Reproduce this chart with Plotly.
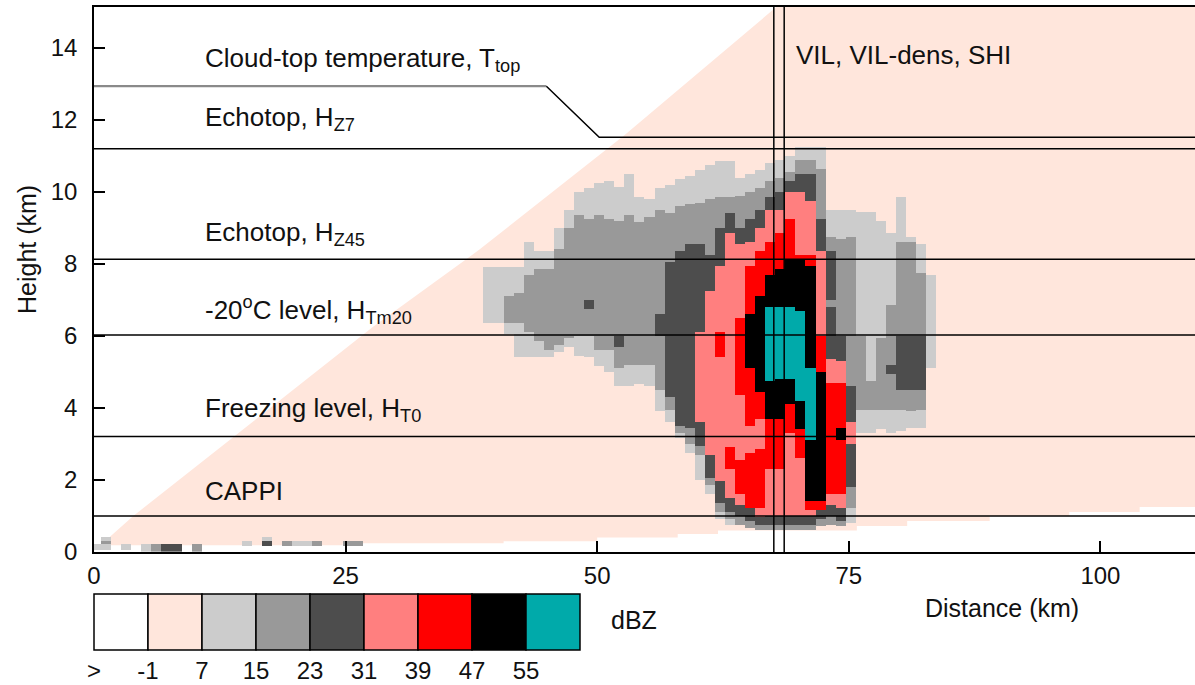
import numpy as np
import plotly.graph_objects as go

# ---------------- data ----------------
class_colors = ["#FFFFFF", "#FFE6DC", "#CCCCCC", "#999999", "#4D4D4D",
                "#FF7F7F", "#FF0000", "#000000", "#00AAAA"]
class_labels = [">", "-1", "7", "15", "23", "31", "39", "47", "55"]

x_ticks = [0, 25, 50, 75, 100]
y_ticks = [0, 2, 4, 6, 8, 10, 12, 14]

level_heights = [11.2, 8.13, 6.03, 3.21, 1.0]          # H_Z7, H_Z45, H_Tm20, H_T0, CAPPI
cloud_top_x = [0.0, 44.95, 50.2, 109.4]
cloud_top_h = [12.94, 12.94, 11.52, 11.52]
column_lines_x = [67.55, 68.58]

label_texts = ["Cloud-top temperature, T<sub>top</sub>", "Echotop, H<sub>Z7</sub>",
               "Echotop, H<sub>Z45</sub>", "-20<sup>o</sup>C level, H<sub>Tm20</sub>",
               "Freezing level, H<sub>T0</sub>", "CAPPI", "VIL, VIL-dens, SHI"]
label_x = [10.8, 10.8, 10.8, 10.8, 10.8, 10.8, 69.6]
label_h = [13.67, 12.03, 8.85, 6.72, 3.97, 1.69, 13.8]

# radar-beam (echo) region: upper edge points and stepped lower edge
beam_top_x = [1.5, 3.9, 27.7, 38.3, 52.7, 67.8]
beam_top_h = [0.4, 1.0, 6.25, 8.4, 11.58, 15.14]
beam_base_x = [1.5, 24.7, 40.7, 50.0, 58.0, 62.0, 75.8, 80.8, 89.0, 96.9, 103.9, 109.4]
beam_base_h = [0.19, 0.24, 0.3, 0.4, 0.5, 0.6, 0.72, 0.86, 1.0, 1.11, 1.25]

# storm: per 1-km column, (top height km, class) from the top down; class 1 = background
storm_cols = list(range(39, 84))
storm_profiles = [
    [(7.9, 2), (6.35, 1)],                                                   # 39
    [(7.9, 2), (6.35, 1)],                                                   # 40
    [(7.9, 2), (7.1, 3), (6.35, 2), (6.05, 1)],                              # 41
    [(7.9, 2), (7.2, 3), (6.35, 2), (5.4, 1)],                               # 42
    [(8.6, 2), (7.7, 3), (6.1, 2), (5.4, 1)],                                # 43
    [(8.35, 2), (7.85, 3), (5.85, 2), (5.4, 1)],                             # 44
    [(8.35, 2), (7.85, 3), (5.6, 2), (5.4, 1)],                              # 45
    [(9.0, 2), (8.4, 3), (5.75, 2), (5.55, 1)],                              # 46
    [(9.5, 2), (9.0, 3), (5.95, 2), (5.7, 1)],                               # 47
    [(10.0, 2), (9.35, 3), (6.0, 2), (5.45, 1)],                             # 48
    [(10.1, 2), (9.25, 3), (7.0, 4), (6.75, 3), (6.0, 2), (5.4, 1)],         # 49
    [(10.25, 2), (9.35, 3), (5.6, 2), (5.15, 1)],                            # 50
    [(10.3, 2), (9.25, 3), (5.6, 2), (5.0, 1)],                              # 51
    [(10.15, 2), (9.2, 3), (6.0, 4), (5.7, 3), (5.1, 2), (4.6, 1)],          # 52
    [(10.5, 2), (9.35, 3), (5.2, 2), (4.6, 1)],                              # 53
    [(9.85, 2), (9.15, 3), (5.2, 2), (4.65, 1)],                             # 54
    [(9.8, 2), (9.3, 3), (5.2, 2), (4.6, 1)],                                # 55
    [(10.1, 2), (9.5, 3), (6.6, 4), (6.0, 3), (4.5, 2), (3.9, 1)],           # 56
    [(10.2, 2), (9.4, 3), (8.05, 4), (4.3, 3), (3.95, 2), (3.6, 1)],         # 57
    [(10.35, 2), (9.6, 3), (8.35, 4), (3.5, 3), (3.3, 2), (3.15, 1)],        # 58
    [(10.45, 2), (9.65, 3), (8.55, 4), (3.45, 3), (3.0, 2), (2.75, 1)],      # 59
    [(10.6, 2), (9.7, 3), (8.55, 4), (6.1, 5), (3.6, 4), (2.95, 3), (2.7, 2), (2.0, 1)],   # 60
    [(10.75, 2), (9.8, 3), (8.25, 4), (7.25, 5), (2.7, 4), (2.05, 3), (1.85, 2), (1.6, 1)],  # 61
    [(10.85, 2), (9.85, 3), (9.0, 4), (7.95, 5), (6.1, 6), (5.4, 5), (1.95, 4), (1.35, 3),
     (1.1, 2), (0.9, 1)],                                                    # 62
    [(10.85, 2), (9.85, 3), (9.4, 4), (8.85, 5), (2.9, 6), (2.3, 5), (1.5, 4), (1.1, 3),
     (0.9, 2), (0.75, 1)],                                                   # 63
    [(10.4, 2), (9.9, 3), (9.0, 4), (8.55, 5), (6.5, 6), (4.35, 5), (2.55, 6), (1.6, 5),
     (1.3, 4), (1.0, 3), (0.75, 1)],                                         # 64
    [(10.5, 2), (10.0, 3), (9.25, 4), (8.6, 5), (7.95, 6), (6.6, 7), (5.1, 6), (3.5, 5),
     (2.75, 6), (1.2, 4), (0.85, 3), (0.65, 1)],                             # 65
    [(10.6, 2), (10.1, 3), (9.5, 4), (9.0, 5), (8.35, 6), (7.1, 7), (4.45, 6), (3.7, 5),
     (2.85, 6), (1.2, 5), (0.95, 4), (0.75, 3), (0.6, 1)],                   # 66
    [(10.8, 2), (10.3, 3), (9.85, 4), (9.5, 5), (8.6, 6), (7.7, 7), (6.8, 8), (4.75, 7),
     (3.7, 6), (2.3, 5), (1.0, 4), (0.75, 3), (0.6, 1)],                     # 67
    [(10.9, 2), (10.4, 3), (10.0, 4), (9.5, 5), (8.85, 6), (7.85, 7), (6.8, 8), (4.8, 7),
     (3.7, 6), (2.3, 5), (1.0, 4), (0.75, 3), (0.6, 1)],                     # 68
    [(11.0, 2), (10.55, 3), (10.3, 4), (10.0, 5), (9.25, 6), (8.1, 7), (6.8, 8), (4.8, 7),
     (4.1, 6), (3.3, 5), (1.0, 4), (0.75, 3), (0.6, 1)],                     # 69
    [(11.25, 2), (10.9, 3), (10.5, 4), (10.0, 5), (8.25, 6), (8.1, 7), (6.7, 8), (4.2, 7),
     (3.4, 6), (2.6, 5), (1.0, 4), (0.75, 3), (0.6, 1)],                     # 70
    [(11.25, 2), (10.9, 3), (10.5, 4), (9.75, 5), (8.25, 6), (7.95, 7), (5.1, 8), (3.1, 7),
     (1.4, 6), (1.15, 5), (1.0, 4), (0.75, 3), (0.6, 1)],                    # 71
    [(11.25, 2), (10.65, 3), (9.25, 4), (8.35, 5), (6.0, 6), (5.0, 7), (1.4, 6), (1.15, 4),
     (0.9, 3), (0.7, 1)],                                                    # 72
    [(9.5, 2), (8.75, 3), (8.35, 4), (7.0, 3), (6.8, 4), (5.35, 5), (4.7, 6), (1.6, 5),
     (1.3, 4), (1.0, 3), (0.75, 1)],                                         # 73
    [(9.5, 2), (8.7, 3), (6.0, 4), (5.3, 5), (4.7, 6), (3.45, 7), (3.1, 6), (1.6, 5),
     (1.2, 4), (0.85, 3), (0.7, 1)],                                         # 74
    [(9.5, 2), (8.75, 3), (4.6, 4), (3.6, 5), (3.0, 4), (1.8, 3), (1.2, 2), (0.8, 1)],  # 75
    [(9.45, 2), (6.0, 3), (3.95, 2), (3.3, 1)],                              # 76
    [(9.45, 2), (4.75, 3), (3.95, 2), (3.3, 1)],                             # 77
    [(9.2, 2), (5.95, 3), (3.95, 2), (3.4, 1)],                              # 78
    [(8.85, 2), (6.85, 3), (5.2, 4), (4.95, 3), (3.95, 2), (3.3, 1)],        # 79
    [(9.85, 2), (8.6, 3), (6.0, 4), (4.5, 3), (3.95, 2), (3.35, 1)],         # 80
    [(8.75, 2), (8.6, 3), (6.0, 4), (4.5, 3), (3.9, 2), (3.45, 1)],          # 81
    [(8.55, 2), (7.75, 3), (6.0, 4), (4.5, 3), (3.95, 2), (3.45, 1)],        # 82
    [(7.7, 2), (5.1, 1)],                                                    # 83
]

# ground clutter cells near the radar
clutter_col = [0, 1, 1, 1, 3, 5, 6, 7, 8, 10, 15, 17, 17, 19, 20, 21, 22, 25, 26]
clutter_bot = [0.06, 0.06, 0.19, 0.28, 0.06, 0.0, 0.0, 0.0, 0.0, 0.0,
               0.14, 0.14, 0.28, 0.14, 0.14, 0.14, 0.14, 0.14, 0.14]
clutter_top = [0.19, 0.19, 0.28, 0.42, 0.19, 0.19, 0.19, 0.19, 0.19, 0.19,
               0.28, 0.28, 0.42, 0.28, 0.28, 0.28, 0.28, 0.28, 0.28]
clutter_cls = [2, 2, 3, 2, 2, 2, 3, 4, 4, 3, 2, 4, 2, 3, 2, 2, 3, 3, 3]

# ---------------- build figure ----------------
W, H = 1195, 685
X_MAX, Y_MAX = 109.4, 15.14
FONT = "Liberation Sans, Arial, sans-serif"
TXT = "#111111"

def px(x):
    return x / W

def py(y):
    return (H - y) / H

# raster grid (1 km columns, fine rows)
dy = 0.05
n_rows = int(round(15.15 / dy))
row_c = (np.arange(n_rows) + 0.5) * dy
n_cols = 110
col_c = np.arange(n_cols) + 0.2
z = np.full((n_rows, n_cols), np.nan)
for c, prof in zip(storm_cols, storm_profiles):
    for (top, cls), (bot, _) in zip(prof[:-1], prof[1:]):
        m = (row_c < top) & (row_c >= bot)
        if cls > 1:
            z[m, c] = cls
for c, b, t, k in zip(clutter_col, clutter_bot, clutter_top, clutter_cls):
    m = (row_c < t) & (row_c >= b)
    z[m, c] = k

colorscale = []
for i, col in enumerate(class_colors):
    colorscale.append([i / 9, col])
    colorscale.append([(i + 1) / 9, col])

fig = go.Figure()

# beam region polygon (pink, -1..7 dBZ)
pts = [(beam_top_x[0], beam_base_h[0])] + list(zip(beam_top_x, beam_top_h))
pts.append((X_MAX + 1, beam_top_h[-1]))
pts.append((X_MAX + 1, beam_base_h[-1]))
for i in range(len(beam_base_h) - 1, -1, -1):
    pts.append((beam_base_x[i + 1], beam_base_h[i]))
    pts.append((beam_base_x[i], beam_base_h[i]))
path = "M " + " L ".join(f"{a:.3f},{b:.3f}" for a, b in pts) + " Z"
fig.add_shape(type="path", path=path, xref="x", yref="y", fillcolor=class_colors[1],
              line=dict(width=0), layer="below")

fig.add_trace(go.Heatmap(x=col_c, y=row_c, z=z, zmin=-0.5, zmax=8.5, colorscale=colorscale,
                         showscale=False, hoverinfo="skip", xaxis="x", yaxis="y"))

# horizontal level lines
for h in level_heights:
    fig.add_trace(go.Scatter(x=[0, X_MAX], y=[h, h], mode="lines",
                             line=dict(color="black", width=1.5), hoverinfo="skip",
                             showlegend=False, xaxis="x", yaxis="y"))
# cloud-top line
fig.add_trace(go.Scatter(x=cloud_top_x[:2], y=cloud_top_h[:2], mode="lines",
                         line=dict(color="#8a8a8a", width=2.2), hoverinfo="skip",
                         showlegend=False, xaxis="x", yaxis="y"))
fig.add_trace(go.Scatter(x=cloud_top_x[1:], y=cloud_top_h[1:], mode="lines",
                         line=dict(color="black", width=1.5), hoverinfo="skip",
                         showlegend=False, xaxis="x", yaxis="y"))
# vertical column lines
for xv in column_lines_x:
    fig.add_trace(go.Scatter(x=[xv, xv], y=[0, Y_MAX], mode="lines",
                             line=dict(color="black", width=1.5), hoverinfo="skip",
                             showlegend=False, xaxis="x", yaxis="y"))

# colour key
fig.add_trace(go.Bar(x=list(range(len(class_colors))), y=[1] * len(class_colors), width=1,
                     marker=dict(color=class_colors, line=dict(color="black", width=1.5)),
                     hoverinfo="skip", showlegend=False, xaxis="x2", yaxis="y2"))

annotations = []
for t, xa, ya in zip(label_texts, label_x, label_h):
    annotations.append(dict(x=xa, y=ya, xref="x", yref="y", text=t, showarrow=False,
                            xanchor="left", yanchor="middle",
                            font=dict(family=FONT, size=26, color=TXT)))
annotations.append(dict(x=px(27), y=py(250), xref="paper", yref="paper", text="Height (km)",
                        textangle=-90, showarrow=False, xanchor="center", yanchor="middle",
                        font=dict(family=FONT, size=25, color=TXT)))
annotations.append(dict(x=px(1002), y=py(608), xref="paper", yref="paper", text="Distance (km)",
                        showarrow=False, xanchor="center", yanchor="middle",
                        font=dict(family=FONT, size=25, color=TXT)))
annotations.append(dict(x=px(634), y=py(620), xref="paper", yref="paper", text="dBZ",
                        showarrow=False, xanchor="center", yanchor="middle",
                        font=dict(family=FONT, size=25, color=TXT)))

key_left, key_right, key_top, key_bot = 94, 580, 594, 650
unit = (key_right - key_left) / 9.0
pad_y = 0.03 * (key_bot - key_top)

fig.update_layout(
    width=W, height=H, autosize=False,
    margin=dict(l=0, r=0, t=0, b=0, pad=0),
    paper_bgcolor="white", plot_bgcolor="white",
    showlegend=False, barmode="overlay",
    font=dict(family=FONT, size=24, color=TXT),
    xaxis=dict(domain=[px(94), 1.0], range=[0, X_MAX], anchor="y", automargin=False,
               showline=True, linecolor="black", linewidth=1.5, mirror=True,
               ticks="inside", ticklen=11, tickwidth=1.5, tickcolor="black",
               tickvals=x_ticks, showgrid=False, zeroline=False,
               ticklabelstandoff=1, tickfont=dict(size=24, color=TXT)),
    yaxis=dict(domain=[py(552), py(7)], range=[0, Y_MAX], anchor="x", automargin=False,
               showline=True, linecolor="black", linewidth=1.5,
               ticks="inside", ticklen=11, tickwidth=1.5, tickcolor="black",
               tickvals=y_ticks, showgrid=False, zeroline=False,
               ticklabelstandoff=10, tickfont=dict(size=24, color=TXT)),
    xaxis2=dict(domain=[px(key_left - 0.02 * unit), px(key_right + 0.02 * unit)],
                range=[-0.52, 8.52], anchor="y2", automargin=False,
                showline=False, showgrid=False, zeroline=False, ticks="",
                tickvals=[i - 0.5 for i in range(9)], ticktext=class_labels,
                ticklabelstandoff=2, tickfont=dict(size=24, color=TXT)),
    yaxis2=dict(domain=[py(key_bot + pad_y), py(key_top - pad_y)], range=[-0.03, 1.03],
                anchor="x2", visible=False, automargin=False),
    annotations=annotations,
)

fig.write_html("out.html")
